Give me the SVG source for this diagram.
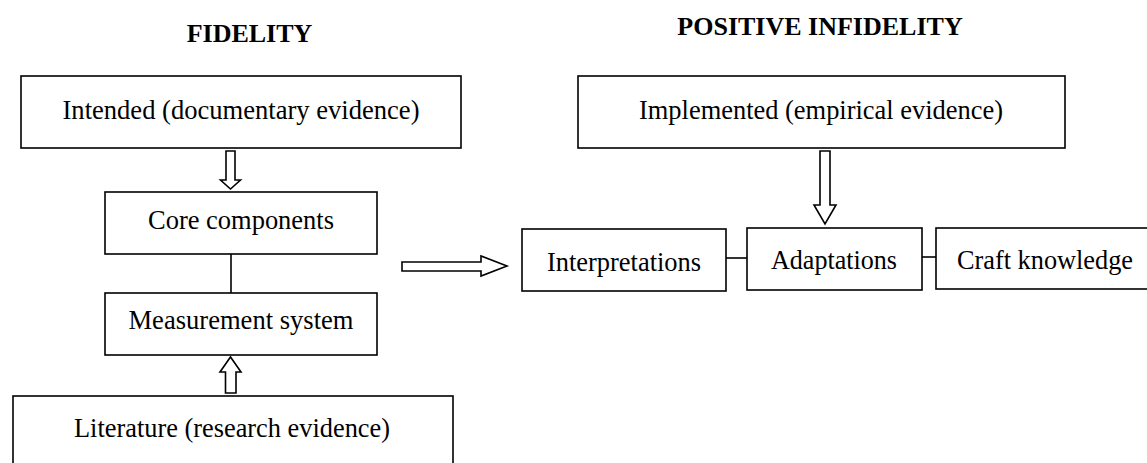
<svg xmlns="http://www.w3.org/2000/svg" width="1147" height="463" viewBox="0 0 1147 463">
<style>
.box{fill:#fff;stroke:#000;stroke-width:1.6}
.t{font-family:"Liberation Serif","Times New Roman",serif;font-size:28px;fill:#000;text-anchor:middle}
.h{font-family:"Liberation Serif","Times New Roman",serif;font-size:26px;font-weight:bold;fill:#000;text-anchor:middle}
.arr{fill:#fff;stroke:#000;stroke-width:1.6;stroke-linejoin:miter}
.ln{stroke:#000;stroke-width:1.6;fill:none}
</style>
<rect width="1147" height="463" fill="#fff"/>
<text class="h" x="249.5" y="42">FIDELITY</text>
<text class="h" x="820" y="35">POSITIVE INFIDELITY</text>
<g id="connectors">
<polygon class="arr" points="226,151 235,151 235,180 240.5,180 230.5,189 220.5,180 226,180"/>
<line class="ln" x1="231" y1="254" x2="231" y2="293"/>
<polygon class="arr" points="225.5,393 236,393 236,372 241,372 230.5,357 220,372 225.5,372"/>
<polygon class="arr" points="402,262 481,262 481,256 507,266 481,276 481,271 402,271"/>
<polygon class="arr" points="820,151 830,151 830,205 836,205 825,224 814,205 820,205"/>
<line class="ln" x1="726" y1="258" x2="747" y2="258"/>
<line class="ln" x1="922" y1="257" x2="936" y2="257"/>
</g>
<g id="intended"><rect class="box" x="21" y="76" width="440" height="72"/><text class="t" x="241" y="119" textLength="357" lengthAdjust="spacingAndGlyphs">Intended (documentary evidence)</text></g>
<g id="core"><rect class="box" x="105" y="192" width="272" height="62"/><text class="t" x="241" y="229" textLength="186" lengthAdjust="spacingAndGlyphs">Core components</text></g>
<g id="measurement"><rect class="box" x="105" y="293" width="272" height="62"/><text class="t" x="241" y="329" textLength="225" lengthAdjust="spacingAndGlyphs">Measurement system</text></g>
<g id="literature"><rect class="box" x="13" y="396" width="440" height="80"/><text class="t" x="232" y="437" textLength="316" lengthAdjust="spacingAndGlyphs">Literature (research evidence)</text></g>
<g id="implemented"><rect class="box" x="578" y="76" width="487" height="72"/><text class="t" x="821" y="119" textLength="364" lengthAdjust="spacingAndGlyphs">Implemented (empirical evidence)</text></g>
<g id="interpretations"><rect class="box" x="522" y="229" width="204" height="62"/><text class="t" x="624" y="271" textLength="154" lengthAdjust="spacingAndGlyphs">Interpretations</text></g>
<g id="adaptations"><rect class="box" x="747" y="228" width="175" height="62"/><text class="t" x="834" y="269" textLength="126" lengthAdjust="spacingAndGlyphs">Adaptations</text></g>
<g id="craft"><rect class="box" x="936" y="228" width="218" height="61"/><text class="t" x="1045" y="269" textLength="176" lengthAdjust="spacingAndGlyphs">Craft knowledge</text></g>
</svg>
